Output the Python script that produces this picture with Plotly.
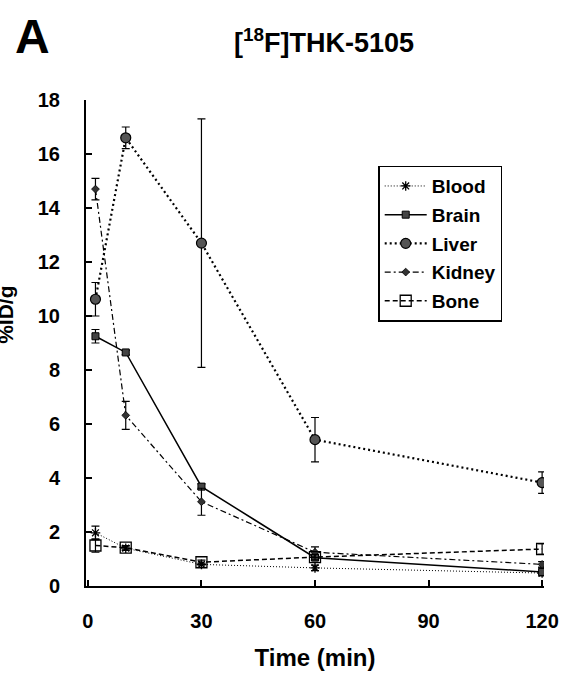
import plotly.graph_objects as go

time = [2, 10, 30, 60, 120]
blood = [1.97, 1.40, 0.80, 0.67, 0.48]
blood_err = [0.25, 0.08, 0.05, 0.10, 0.05]
brain = [9.25, 8.65, 3.68, 1.05, 0.52]
brain_err = [0.25, 0.08, 0.10, 0.10, 0.15]
liver = [10.62, 16.6, 12.7, 5.42, 3.83]
liver_err = [0.62, 0.40, 4.6, 0.82, 0.40]
kidney = [14.7, 6.32, 3.12, 1.25, 0.80]
kidney_err = [0.40, 0.52, 0.50, 0.20, 0.10]
bone = [1.50, 1.42, 0.88, 1.07, 1.37]
bone_err = [0.25, 0.08, 0.08, 0.10, 0.20]

series_names = ["Blood", "Brain", "Liver", "Kidney", "Bone"]
x_ticks = [0, 30, 60, 90, 120]
y_ticks = [0, 2, 4, 6, 8, 10, 12, 14, 16, 18]

FONT = "Liberation Sans, Arial, sans-serif"

styles = {
    "Blood": dict(line=dict(color="black", width=1, dash="1px,2px"),
                  marker=dict(symbol="asterisk-open", size=8, color="black",
                              line=dict(color="black", width=1.3))),
    "Brain": dict(line=dict(color="black", width=1.5),
                  marker=dict(symbol="square", size=7, color="#444",
                              line=dict(color="black", width=1))),
    "Liver": dict(line=dict(color="black", width=2.2, dash="2px,3px"),
                  marker=dict(symbol="circle", size=10, color="#555",
                              line=dict(color="black", width=1.2))),
    "Kidney": dict(line=dict(color="black", width=1.2, dash="6px,3px,2px,3px"),
                   marker=dict(symbol="diamond", size=6, color="#333",
                               line=dict(color="black", width=0.8))),
    "Bone": dict(line=dict(color="black", width=1.5, dash="5px,3px"),
                 marker=dict(symbol="square-open", size=11, color="black",
                             line=dict(color="black", width=1.3))),
}

data = {"Blood": (blood, blood_err), "Brain": (brain, brain_err),
        "Liver": (liver, liver_err), "Kidney": (kidney, kidney_err),
        "Bone": (bone, bone_err)}

fig = go.Figure()
for name in series_names:
    vals, errs = data[name]
    fig.add_trace(go.Scatter(
        x=time, y=vals, name=name, mode="lines+markers",
        legendgroup=name,
        error_y=dict(type="data", array=errs, visible=True, color="black",
                     thickness=1.2, width=4),
        **styles[name]))

fig.update_layout(
    width=571, height=679,
    margin=dict(l=86, r=23, t=100, b=82),
    paper_bgcolor="white", plot_bgcolor="white",
    font=dict(family=FONT, size=18, color="black"),
    showlegend=True,
    legend=dict(x=0.638, y=0.865, xanchor="left", yanchor="top",
                bordercolor="black", borderwidth=1.5, bgcolor="white",
                font=dict(family=FONT, size=19, color="black", weight="bold"),
                tracegroupgap=1, traceorder="grouped", itemwidth=42),
    xaxis=dict(range=[-0.5, 120.5], tickvals=x_ticks, ticktext=[str(v) for v in x_ticks],
               ticks="inside", ticklen=6, tickwidth=1.5, tickcolor="black",
               showline=True, linecolor="black", linewidth=2,
               showgrid=False, zeroline=False, ticklabelstandoff=16,
               tickfont=dict(family=FONT, size=20, weight="bold"),
               title=dict(text="Time (min)", font=dict(family=FONT, size=24, weight="bold"),
                          standoff=18)),
    yaxis=dict(range=[0, 18], tickvals=y_ticks, ticktext=[str(v) for v in y_ticks],
               ticks="inside", ticklen=6, tickwidth=1.5, tickcolor="black",
               showline=True, linecolor="black", linewidth=2,
               showgrid=False, zeroline=False, ticklabelstandoff=20,
               tickfont=dict(family=FONT, size=20, weight="bold")),
    annotations=[
        dict(text="[<sup>18</sup>F]THK-5105", xref="paper", yref="paper",
             x=(326 - 86) / 462, y=(597 - 40) / 497, xanchor="center", yanchor="middle",
             showarrow=False, font=dict(family=FONT, size=27, weight="bold")),
        dict(text="A", xref="paper", yref="paper",
             x=(32 - 86) / 462, y=(597 - 35) / 497, xanchor="center", yanchor="middle",
             showarrow=False, font=dict(family=FONT, size=48, weight="bold")),
        dict(text="%ID/g", xref="paper", yref="paper", textangle=-90,
             x=(4 - 86) / 462, y=(597 - 320) / 497, xanchor="center", yanchor="middle",
             showarrow=False, font=dict(family=FONT, size=21, weight="bold")),
    ],
)

fig.write_html("out.html")
